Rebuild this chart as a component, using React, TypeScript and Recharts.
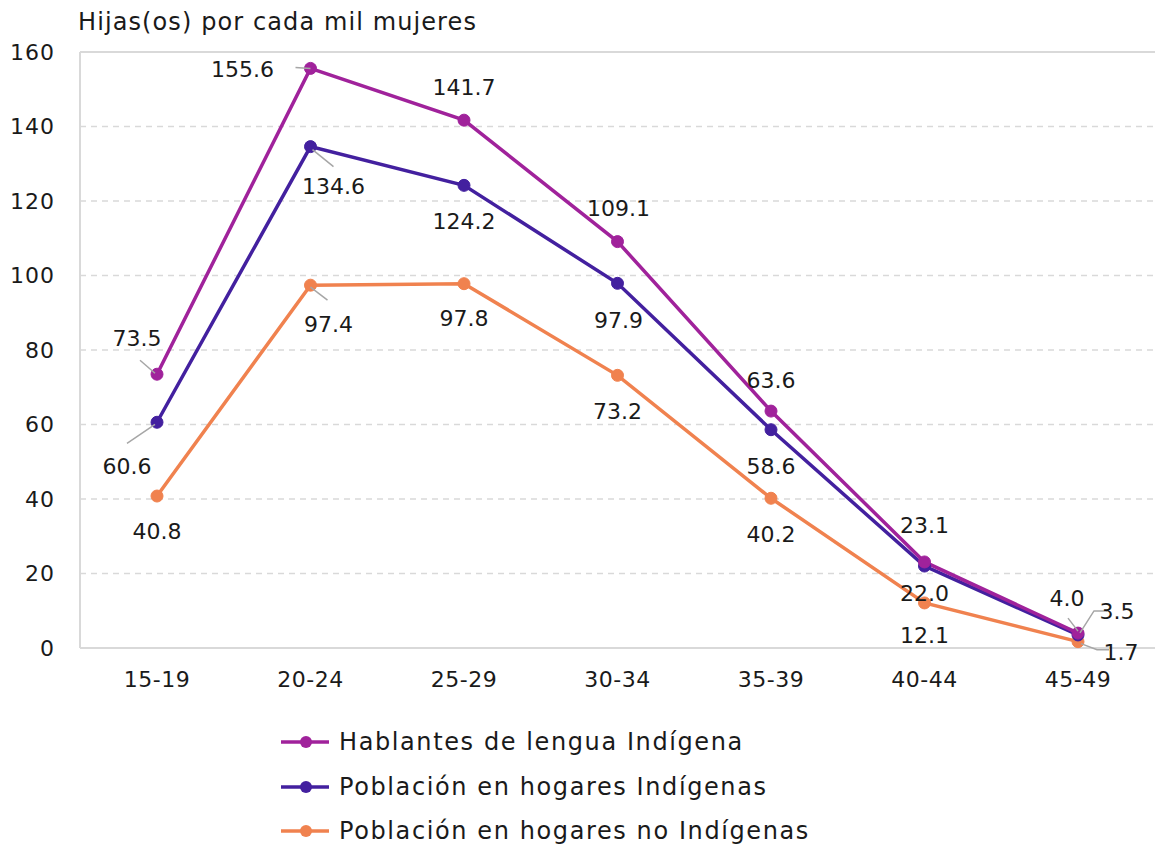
import React from "react";
import { LineChart, Line, XAxis, YAxis, CartesianGrid, Legend, ReferenceLine } from "recharts";

const categories = ["15-19", "20-24", "25-29", "30-34", "35-39", "40-44", "45-49"];
const hablantes = [73.5, 155.6, 141.7, 109.1, 63.6, 23.1, 4.0];
const hogaresIndigenas = [60.6, 134.6, 124.2, 97.9, 58.6, 22.0, 3.5];
const hogaresNoIndigenas = [40.8, 97.4, 97.8, 73.2, 40.2, 12.1, 1.7];
const yTicks = [0, 20, 40, 60, 80, 100, 120, 140, 160];

const seriesNames = [
  "Hablantes de lengua Indígena",
  "Población en hogares Indígenas",
  "Población en hogares no Indígenas",
];
const colors = ["#A0229B", "#43209F", "#F0824F"];

const data = categories.map((c, i) => ({
  cat: c,
  h: hablantes[i],
  hi: hogaresIndigenas[i],
  hn: hogaresNoIndigenas[i],
}));

type Pos = { dx: number; dy: number; leader?: number[][] };

const posH: Pos[] = [
  { dx: -20, dy: -36, leader: [[-17, -14], [-2, -1]] },
  { dx: -68, dy: 1, leader: [[-15, -1], [0, 0]] },
  { dx: 0, dy: -33 },
  { dx: 1, dy: -33 },
  { dx: 0, dy: -31 },
  { dx: 0, dy: -36 },
  { dx: -11, dy: -35, leader: [[-10, -15], [0, -2]] },
];
const posHI: Pos[] = [
  { dx: -30, dy: 44, leader: [[-30, 21], [-2, 2]] },
  { dx: 23, dy: 40, leader: [[23, 20], [2, 3]] },
  { dx: 0, dy: 36 },
  { dx: 1, dy: 37 },
  { dx: 0, dy: 37 },
  { dx: 0, dy: 27 },
  { dx: 39, dy: -23, leader: [[2, -2], [16, -24], [29, -24]] },
];
const posHN: Pos[] = [
  { dx: 0, dy: 35 },
  { dx: 18, dy: 39, leader: [[0, 2], [17, 15]] },
  { dx: 0, dy: 35 },
  { dx: 0, dy: 36 },
  { dx: 0, dy: 36 },
  { dx: 0, dy: 33 },
  { dx: 43, dy: 11, leader: [[3, 2], [19, 8], [31, 8]] },
];

const FONT = "'DejaVu Sans', sans-serif";

const makeLabel = (pos: Pos[]) => (props: any) => {
  const { x, y, value, index } = props;
  const p = pos[index];
  if (!p) return null;
  return (
    <g>
      {p.leader && (
        <polyline
          points={p.leader.map(([a, b]) => `${x + a},${y + b}`).join(" ")}
          fill="none"
          stroke="#A6A6A6"
          strokeWidth={1.5}
        />
      )}
      <text
        x={x + p.dx}
        y={y + p.dy}
        textAnchor="middle"
        dominantBaseline="central"
        fontSize={22}
        fontFamily={FONT}
        fill="#1a1a1a"
      >
        {Number(value).toFixed(1)}
      </text>
    </g>
  );
};

const LegendContent = () => (
  <div style={{ fontFamily: FONT, fontSize: 24, letterSpacing: 1.6, color: "#1a1a1a" }}>
    {seriesNames.map((n, i) => (
      <div key={n} style={{ display: "flex", alignItems: "center", height: 44.5 }}>
        <svg width={56} height={20} style={{ marginRight: 4 }}>
          <line x1={2} y1={10} x2={50} y2={10} stroke={colors[i]} strokeWidth={3.5} />
          <circle cx={27} cy={10} r={6} fill={colors[i]} />
        </svg>
        <span>{n}</span>
      </div>
    ))}
  </div>
);

export default function App() {
  return (
    <div style={{ position: "absolute", left: 0, top: 0, width: 1155, height: 845, background: "#fff" }}>
      <div
        style={{
          position: "absolute",
          left: 78,
          top: 8,
          fontFamily: FONT,
          fontSize: 24,
          letterSpacing: 1.1,
          color: "#1a1a1a",
          whiteSpace: "nowrap",
        }}
      >
        Hijas(os) por cada mil mujeres
      </div>
      <LineChart
        width={1155}
        height={845}
        data={data}
        margin={{ top: 52, right: 0, bottom: 167, left: 0 }}
      >
        <CartesianGrid vertical={false} stroke="#D9D9D9" strokeDasharray="6 5" strokeWidth={1.3} />
        <ReferenceLine y={160} stroke="#D9D9D9" strokeWidth={2} />
        <XAxis
          dataKey="cat"
          height={30}
          padding={{ left: 77, right: 77 }}
          axisLine={{ stroke: "#D9D9D9", strokeWidth: 2 }}
          tickLine={false}
          tickMargin={17}
          tick={{ fontSize: 22, fontFamily: FONT, fill: "#1a1a1a", letterSpacing: 0.5 }}
        />
        <YAxis
          width={80}
          domain={[0, 160]}
          ticks={yTicks}
          axisLine={{ stroke: "#D9D9D9", strokeWidth: 2 }}
          tickLine={false}
          tickMargin={19}
          tick={{ fontSize: 22, fontFamily: FONT, fill: "#1a1a1a", letterSpacing: 1 }}
        />
        <Legend
          layout="vertical"
          align="center"
          verticalAlign="middle"
          content={<LegendContent />}
          wrapperStyle={{ left: 279, top: 720, width: 600, height: 140 }}
        />
        <Line
          dataKey="hn"
          name={seriesNames[2]}
          stroke={colors[2]}
          strokeWidth={3.5}
          dot={{ r: 6, fill: colors[2], stroke: colors[2], strokeWidth: 1 }}
          isAnimationActive={false}
          label={makeLabel(posHN)}
        />
        <Line
          dataKey="hi"
          name={seriesNames[1]}
          stroke={colors[1]}
          strokeWidth={3.5}
          dot={{ r: 6, fill: colors[1], stroke: colors[1], strokeWidth: 1 }}
          isAnimationActive={false}
          label={makeLabel(posHI)}
        />
        <Line
          dataKey="h"
          name={seriesNames[0]}
          stroke={colors[0]}
          strokeWidth={3.5}
          dot={{ r: 6, fill: colors[0], stroke: colors[0], strokeWidth: 1 }}
          isAnimationActive={false}
          label={makeLabel(posH)}
        />
      </LineChart>
    </div>
  );
}
